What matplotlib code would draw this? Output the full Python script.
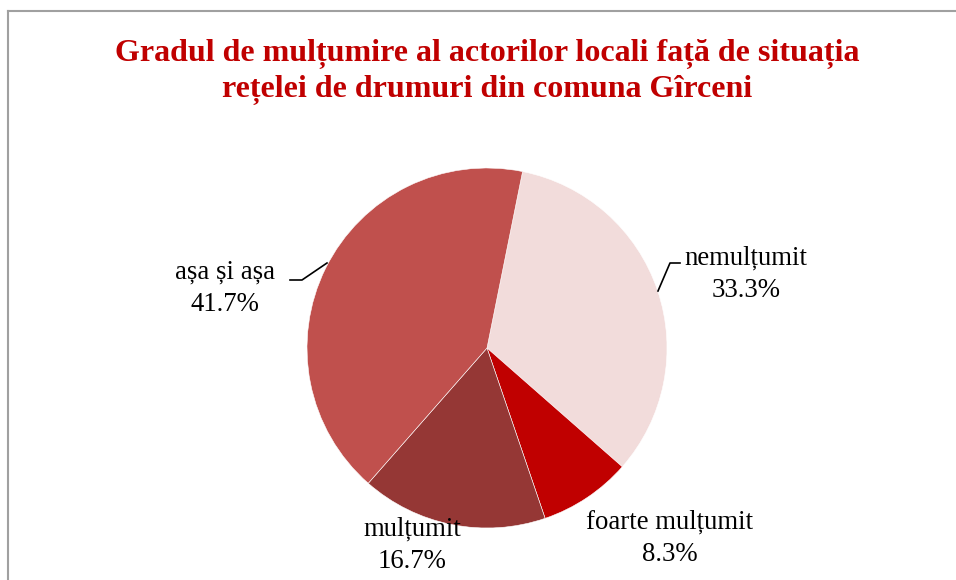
import matplotlib

matplotlib.use("Agg")
import matplotlib.pyplot as plt
from matplotlib.lines import Line2D

# data
categories = ["nemulțumit", "foarte mulțumit", "mulțumit", "așa și așa"]
shares = [33.3, 8.3, 16.7, 41.7]
colors = ["#F2DCDB", "#C00000", "#953735", "#C0504D"]

title = ("Gradul de mulțumire al actorilor locali față de situația\n"
         "rețelei de drumuri din comuna Gîrceni")

W, H = 956, 580
fig = plt.figure(figsize=(W / 100, H / 100), dpi=100)
ax = fig.add_axes([0, 0, 1, 1])

# chart frame (only top and left edges are visible in the crop)
fig.add_artist(Line2D([7.5 / W, 1], [1 - 10.5 / H] * 2, color="#A0A0A0", lw=1.5))
fig.add_artist(Line2D([7.5 / W] * 2, [0, 1 - 10.5 / H], color="#A0A0A0", lw=1.5))

# pie, laid out in pixel space (y flipped)
cx, cy, r = 487, H - 348, 180
ax.pie(shares, colors=colors, startangle=78.6, counterclock=False,
       center=(cx, cy), radius=r, frame=True,
       wedgeprops=dict(edgecolor="white", linewidth=0.4))
ax.set_xlim(0, W)
ax.set_ylim(0, H)
ax.set_aspect("equal")
ax.axis("off")

serif = "Liberation Serif"
label_pos = [(746, 274), (670, 538), (412, 545), (225, 288)]
for name, val, (lx, ly) in zip(categories, shares, label_pos):
    ax.text(lx, H - ly, f"{name}\n{val:.1f}%", ha="center", va="center",
            fontsize=19.3, family=serif, color="black", linespacing=1.4)

# leader lines
ax.plot([680, 670, 658], [H - 263, H - 263, H - 291], color="black", lw=1.2)
ax.plot([290, 302, 327], [H - 280, H - 280, H - 263], color="black", lw=1.2)

ax.text(487, H - 72, title, ha="center", va="center", fontsize=23,
        family=serif, fontweight="bold", color="#C00000", linespacing=1.3)

fig.savefig("out.png", dpi=100)
